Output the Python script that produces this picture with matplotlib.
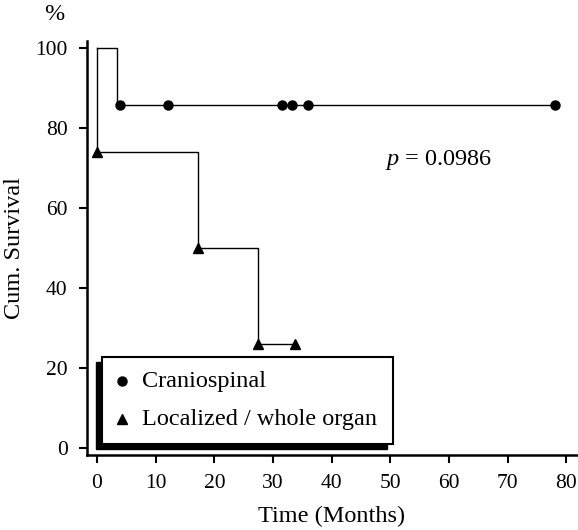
import numpy as np
import matplotlib.pyplot as plt
from matplotlib.patches import Rectangle
from matplotlib.lines import Line2D

plt.rcParams['font.family'] = ['Liberation Serif', 'DejaVu Serif']
plt.rcParams['mathtext.fontset'] = 'custom'
plt.rcParams['mathtext.it'] = 'Liberation Serif:italic'
plt.rcParams['mathtext.rm'] = 'Liberation Serif'

# craniospinal: step curve and censor marks
cranio_t = [0, 3.4, 78.1]
cranio_s = [100, 85.7, 85.7]
cranio_cens_t = [4.0, 12.1, 31.6, 33.2, 36.0, 78.1]
cranio_cens_s = [85.7, 85.7, 85.7, 85.7, 85.7, 85.7]

# localized / whole organ
local_t = [0, 0, 17.3, 27.5, 33.7]
local_s = [100, 74, 50, 26, 26]
local_mark_t = [0, 17.3, 27.5, 33.7]
local_mark_s = [74, 50, 26, 26]

xticks = [0, 10, 20, 30, 40, 50, 60, 70, 80]
yticks = [0, 20, 40, 60, 80, 100]

fig = plt.figure(figsize=(5.78, 5.3), dpi=100)
ax = fig.add_axes([87/578, 1 - 455/530, 490/578, 414/530])

fs = 17.5
ax.step(cranio_t, cranio_s, where='post', color='k', lw=1)
ax.plot(cranio_cens_t, cranio_cens_s, 'o', color='k', ms=6.5, ls='none')
ax.step(local_t, local_s, where='post', color='k', lw=1)
ax.plot(local_mark_t, local_mark_s, '^', color='k', ms=7.5, ls='none')

ax.set_xlim(-1.7, 81.8)
ax.set_ylim(-1.75, 101.75)
ax.set_xticks(xticks)
ax.set_yticks(yticks)
ax.tick_params(labelsize=15.5, length=6, width=1.5, pad=8)
for s in ['top', 'right']:
    ax.spines[s].set_visible(False)
for s in ['left', 'bottom']:
    ax.spines[s].set_linewidth(1.8)

ax.set_xlabel('Time (Months)', fontsize=fs, labelpad=9)
ax.set_ylabel('Cum. Survival', fontsize=fs, labelpad=7)
fig.text(54/578, 1 - 15/530, '%', fontsize=fs, ha='center', va='center')
ax.text(58.2, 72, r'$p$ = 0.0986', fontsize=fs, ha='center', va='center')

# legend box with offset black shadow
tr = ax.transAxes
def px(x0, y0):
    return ((x0 - 87) / 490, (455 - y0) / 414)

sx, sy = px(96, 449)
ax.add_patch(Rectangle((sx, sy), (387 - 96) / 490, (449 - 362) / 414, transform=tr,
                       facecolor='k', edgecolor='k', zorder=5, clip_on=False))
bx, by = px(102, 444)
ax.add_patch(Rectangle((bx, by), (393 - 102) / 490, (444 - 357) / 414, transform=tr,
                       facecolor='white', edgecolor='k', lw=1.5, zorder=6, clip_on=False))
for (mk, ms, label, ypx) in [('o', 6.5, 'Craniospinal', 381), ('^', 7.5, 'Localized / whole organ', 419)]:
    mx, my = px(121.5, ypx)
    ax.add_line(Line2D([mx], [my], marker=mk, color='k', ms=ms, transform=tr, zorder=7, clip_on=False))
    tx, _ = px(142, ypx)
    ax.text(tx, my, label, transform=tr, fontsize=fs, ha='left', va='center', zorder=7)

fig.savefig('out.png', dpi=100)
